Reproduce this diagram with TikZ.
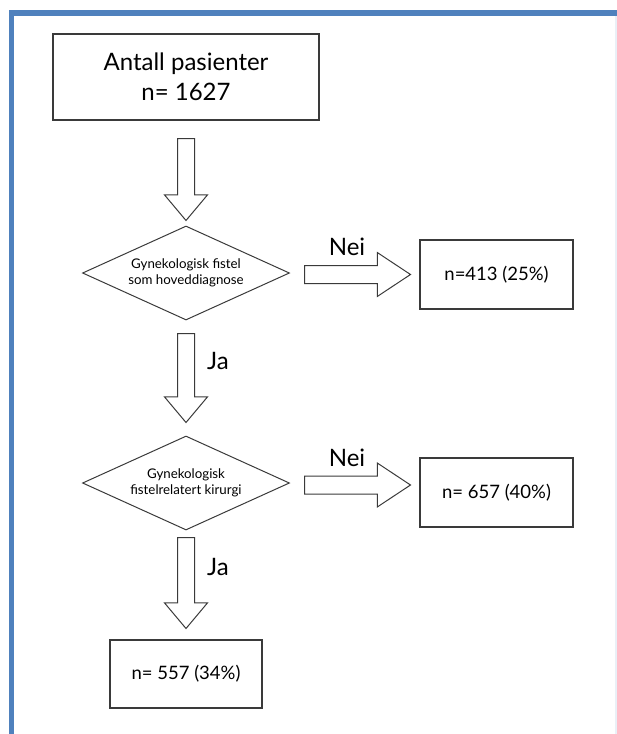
\documentclass[tikz,border=0pt]{standalone}
\usepackage{fontspec}
\setmainfont{Lato}
\usepackage{tikz}
\usetikzlibrary{shapes,shapes.arrows}
\definecolor{rammeblaa}{HTML}{4F81BD}
\definecolor{strek}{HTML}{3A3A3A}
\tikzstyle{boks}=[rectangle, draw=strek, line width=1.2pt, inner sep=0pt, align=center]
\tikzstyle{valg}=[diamond, draw=strek, line width=1pt, minimum width=207pt, minimum height=94pt,% flat diamond
inner sep=0pt, shape aspect=2.2, align=center, font=\fontsize{13.3}{15.5}\selectfont]
\tikzstyle{pilned}=[single arrow, draw=strek, line width=1pt, inner xsep=0pt, inner ysep=8pt, single arrow head extend=13pt, single arrow tip angle=80, rotate=-90, anchor=tail]
\tikzstyle{pilhoyre}=[single arrow, draw=strek, line width=1pt, inner xsep=0pt, inner ysep=8.5pt, single arrow head extend=13pt, single arrow tip angle=67, minimum height=106pt, anchor=tail]
\tikzstyle{stor}=[font=\fontsize{24}{30}\selectfont, inner sep=0pt]
\tikzstyle{tall}=[font=\fontsize{18.5}{22}\selectfont]

\begin{document}
\begin{tikzpicture}[x=1pt,y=-1pt]
\useasboundingbox (0,0) rectangle (617,734);
% ramme
\draw[rammeblaa, line width=5.5pt] (11.5,734) -- (11.5,13) -- (617,13);
\draw[rammeblaa!12, line width=1.5pt] (616,16) -- (616,734);
% bokser
\node[boks, stor, minimum width=266pt, minimum height=86pt] (start) at (186,77) {Antall pasienter\\n= 1627};
\node[valg] (v1) at (186,273) {Gynekologisk fistel\\som hoveddiagnose};
\node[valg] (v2) at (186,483) {Gynekologisk\\fistelrelatert kirurgi};
\node[boks, tall, minimum width=153pt, minimum height=69pt] (r1) at (496.5,274.5) {n=413 (25\%)};
\node[boks, tall, minimum width=153pt, minimum height=69pt] (r2) at (496.5,492.5) {n= 657 (40\%)};
\node[boks, tall, minimum width=152pt, minimum height=68pt] (r3) at (186,674) {n= 557 (34\%)};
% piler
\node[pilned, minimum height=82pt] (p1) at (186,138) {};
\node[pilned, minimum height=89pt] (p2) at (186,333) {};
\node[pilned, minimum height=91pt] (p3) at (186,537) {};
\node[pilhoyre] (h1) at (304,274.5) {};
\node[pilhoyre] (h2) at (304,485) {};
% etiketter
\node[stor] (nei1) at (347,247) {Nei};
\node[stor] (nei2) at (347,458) {Nei};
\node[stor] (ja1) at (218,361) {Ja};
\node[stor] (ja2) at (218,567) {Ja};
\end{tikzpicture}
\end{document}
